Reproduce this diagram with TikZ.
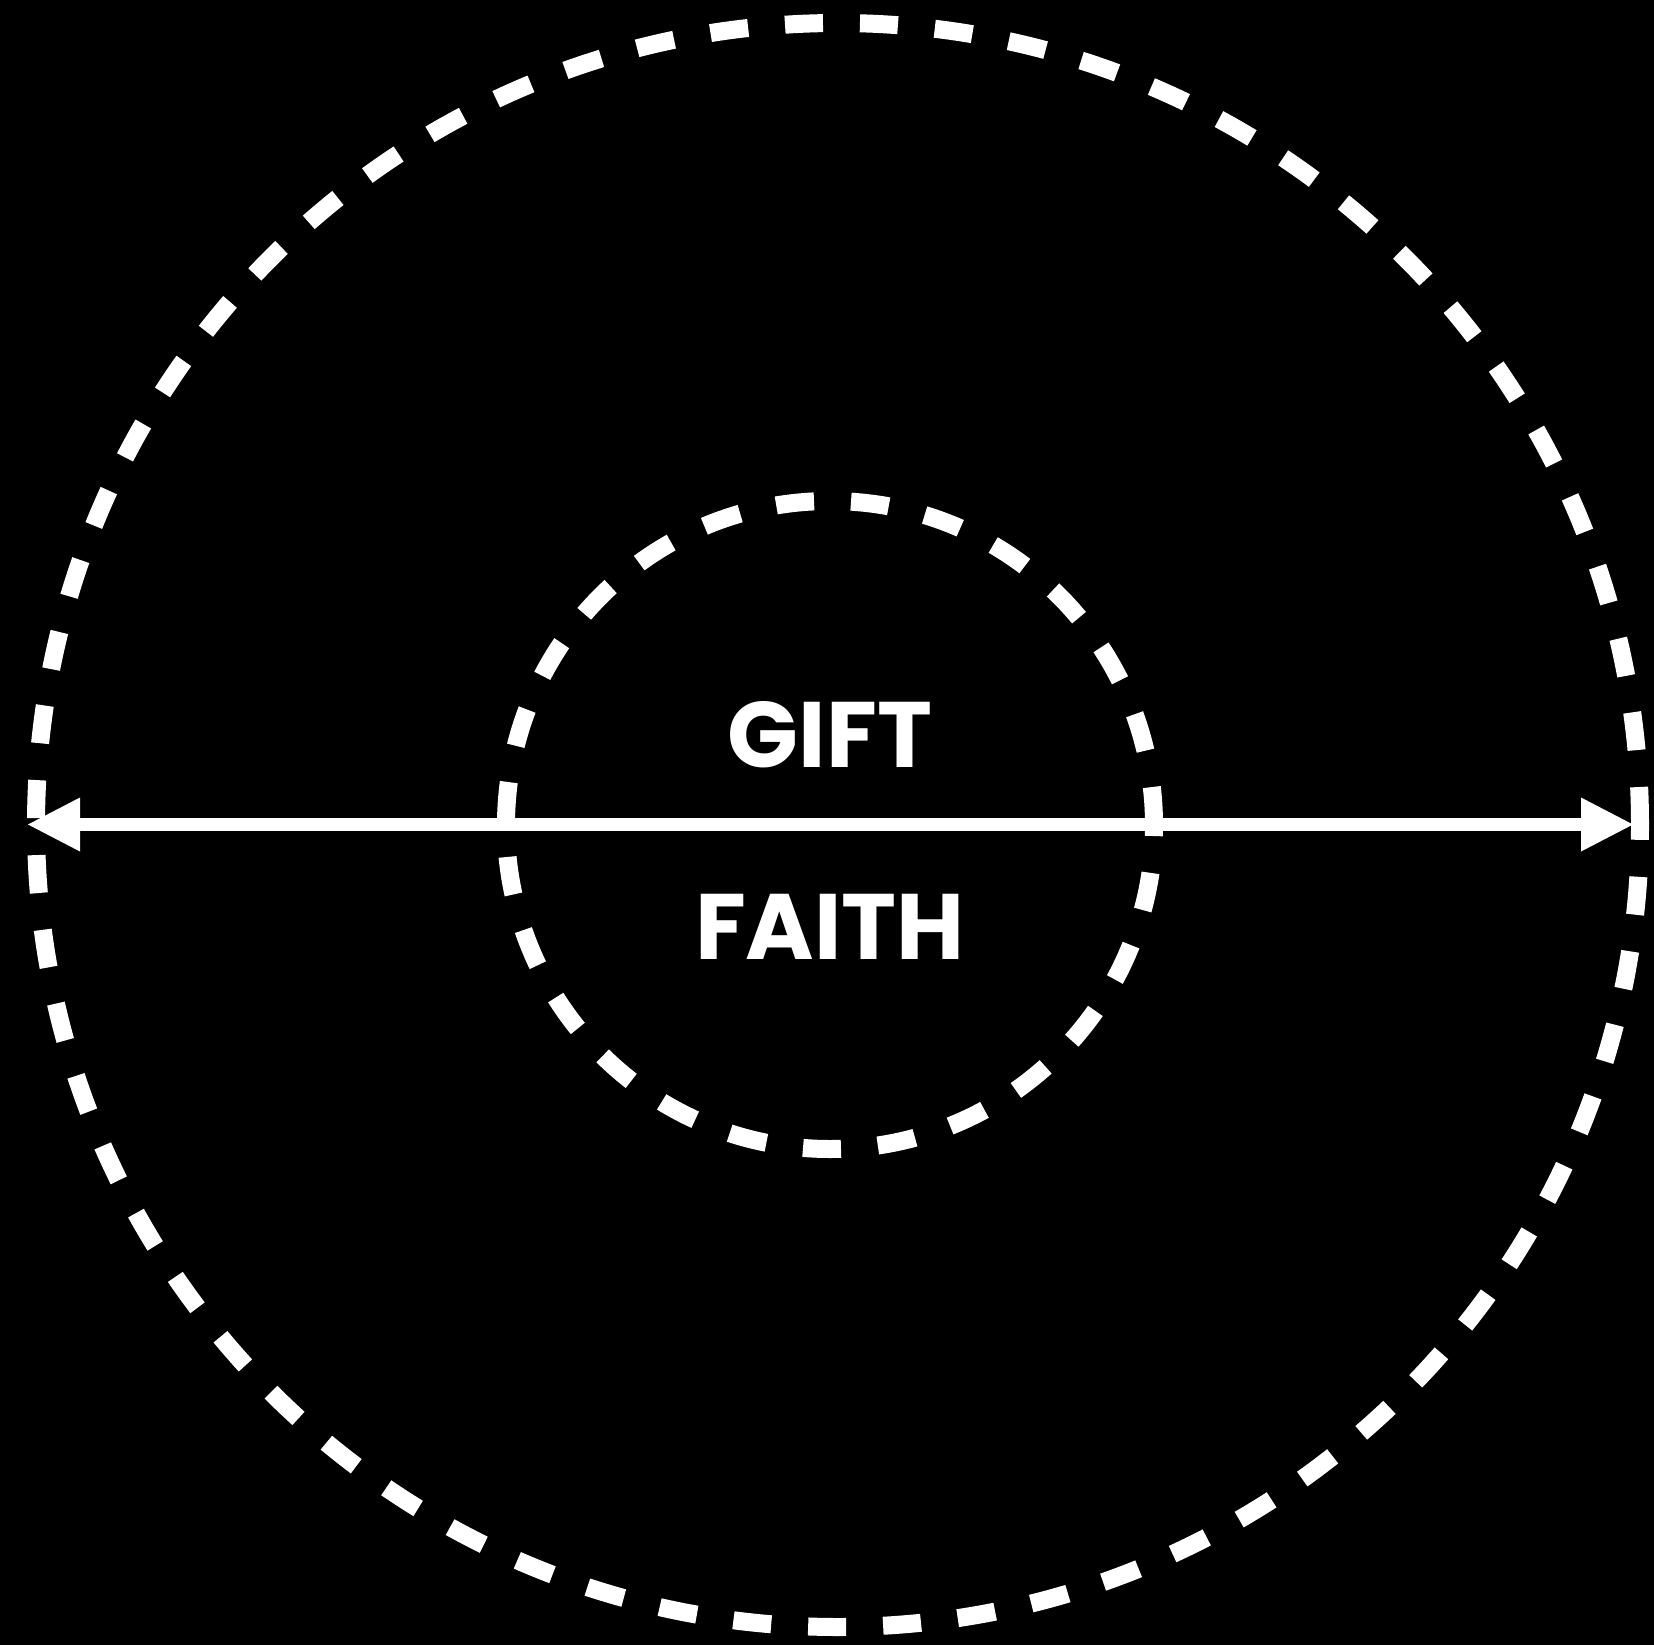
\documentclass[tikz,border=0pt]{standalone}
\usepackage{fontspec}
\setmainfont{Poppins}
\usetikzlibrary{arrows.meta}

\begin{document}
\begin{tikzpicture}[
  x=1pt, y=-1pt,
  >={Triangle[length=52pt, width=54pt, line width=0pt]},
  ring/.style={circle, draw=white, line width=18pt, dash pattern=on 38pt off 37pt, inner sep=0pt},
  word/.style={text=white, inner sep=0pt, font=\fontsize{93}{93}\selectfont\bfseries}
]
  \useasboundingbox (0,0) rectangle (1654,1645);
  \fill[black] (0,0) rectangle (1654,1645);
  \node[ring, minimum size=1604pt] (outer) at (838,825) {};
  \node[ring, minimum size=648pt] (inner) at (830,825) {};
  \node[word, anchor=base] (gift) at (830,767) {GIFT};
  \node[word, anchor=base] (faith) at (830,959) {FAITH};
  \coordinate (lend) at (28,824.5);
  \coordinate (rend) at (1633,824.5);
  \draw[<->, white, line width=13pt] (lend) -- (rend);
\end{tikzpicture}
\end{document}
